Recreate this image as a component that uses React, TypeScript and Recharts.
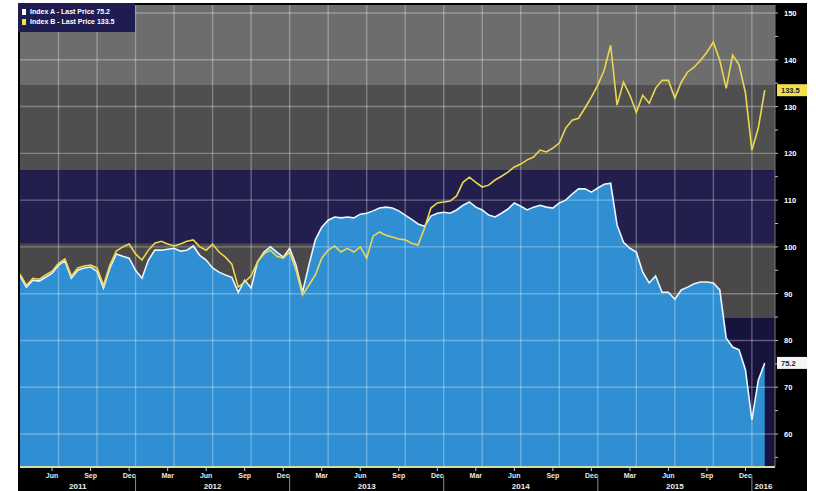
import React from "react";
import { ComposedChart, Area, Line, XAxis, YAxis, ReferenceArea, ReferenceLine } from "recharts";

/* half-month steps, first point early Apr 2011 */
const blueIdx = [
  93.8, 91.4, 92.9, 92.7, 93.5, 94.4, 96.1, 97.0, 93.3, 95.0, 95.5, 95.7, 94.8, 91.2, 95.5, 98.5,
  98.0, 97.6, 95.0, 93.3, 97.2, 99.3, 99.3, 99.5, 99.7, 99.1, 99.3, 100.2, 98.2, 97.2, 95.5, 94.6,
  94.0, 93.5, 90.3, 92.9, 91.2, 96.8, 98.9, 100.0, 98.9, 97.8, 99.7, 96.1, 90.3, 96.1, 101.5, 104.2,
  105.7, 106.4, 106.2, 106.4, 106.2, 107.0, 107.2, 107.7, 108.3, 108.5, 108.3, 107.7, 106.8, 105.9, 104.9, 104.4,
  106.6, 107.2, 107.4, 107.2, 107.9, 108.9, 109.6, 108.5, 107.9, 106.8, 106.4, 107.2, 108.1, 109.4, 108.7, 107.9,
  108.5, 108.9, 108.5, 108.3, 109.4, 110.0, 111.3, 112.4, 112.4, 111.7, 112.6, 113.4, 113.6, 104.7, 101.0, 99.7,
  98.9, 94.6, 92.3, 93.8, 90.3, 90.3, 88.8, 90.8, 91.4, 92.1, 92.5, 92.5, 92.3, 90.8, 80.5, 78.6,
  78.0, 73.7, 63.0, 71.5, 75.2,
];

const yellowIdx = [
  94.2, 91.8, 93.3, 93.1, 94.0, 94.8, 96.5, 97.4, 93.8, 95.5, 95.9, 96.1, 95.5, 91.8, 96.1, 99.1,
  100.0, 100.6, 98.5, 97.2, 99.3, 100.8, 101.2, 100.6, 100.2, 100.6, 101.2, 101.5, 100.0, 99.3, 100.6, 98.9,
  97.8, 96.3, 91.4, 92.5, 93.8, 96.8, 98.5, 99.3, 98.0, 97.6, 98.9, 95.0, 89.7, 91.8, 94.0, 97.6,
  99.3, 100.2, 98.9, 99.7, 98.9, 100.0, 97.6, 102.3, 103.2, 102.5, 102.1, 101.7, 101.5, 100.8, 100.4, 104.0,
  108.3, 109.4, 109.6, 109.8, 110.9, 113.8, 114.9, 113.8, 112.8, 113.2, 114.3, 115.1, 116.0, 117.1, 117.7, 118.6,
  119.2, 120.7, 120.3, 121.1, 122.2, 125.4, 127.1, 127.5, 129.7, 132.0, 134.6, 137.8, 143.1, 130.3, 135.2, 132.4,
  128.8, 132.4, 130.7, 133.9, 135.6, 135.6, 131.8, 135.2, 137.4, 138.4, 139.9, 141.6, 143.8, 139.9, 133.9, 141.0,
  138.9, 132.9, 120.7, 125.4, 133.5,
];

const monthTicks = [5, 11, 17, 23, 29, 35, 41, 47, 53, 59, 65, 71, 77, 83, 89, 95, 101, 107, 113];
const monthNames = ["Jun", "Sep", "Dec", "Mar"];
const yearNames = ["2011", "2012", "2013", "2014", "2015", "2016"];
const yearCentres = [9, 30, 54, 78, 102, 115.8];
const yearBounds = [18, 42, 66, 90, 114];
const gridX = [6, 12, 18, 24, 30, 36, 42, 48, 54, 60, 66, 72, 78, 84, 90, 96, 102, 108, 114];
const priceTicks = [55, 60, 65, 70, 75, 80, 85, 90, 95, 100, 105, 110, 115, 120, 125, 130, 135, 140, 145, 150];
const priceGrid = [60, 70, 80, 90, 100, 110, 120, 130, 140, 150];
const bandEdges = [151.71, 134.6, 116.4, 100.8, 84.8, 52.95];
const BAND_COLORS = ["#6d6d6d", "#4f4f4f", "#221f4f", "#4a4848", "#16143c"];

const Y_DOMAIN = [52.95, 151.71];
const X_DOMAIN = [0, 117.6];
const FONT = "'Liberation Sans', Arial, sans-serif";

const data = blueIdx.map((v, i) => ({ t: i, blue: v, yellow: yellowIdx[i] }));
const yearTicks = [...yearCentres, ...yearBounds].sort((a, b) => a - b);

const MonthTick = ({ x, y, payload }: any) => {
  const k = monthTicks.indexOf(payload.value);
  return (
    <g>
      <line x1={x} y1={y} x2={x} y2={y + 4} stroke="#cfcfcf" />
      <text x={x} y={y + 11} fill="#e8e8e8" fontSize={7} fontWeight={700} textAnchor="middle">
        {monthNames[k % 4]}
      </text>
    </g>
  );
};

const YearTick = ({ x, y, payload }: any) => {
  if (yearBounds.includes(payload.value)) {
    return <line x1={x} y1={y - 5} x2={x} y2={y + 12} stroke="#8a8a8a" />;
  }
  const k = yearCentres.indexOf(payload.value);
  return (
    <text x={x} y={y + 9} fill="#f0f0f0" fontSize={8} fontWeight={700} textAnchor="middle">
      {yearNames[k]}
    </text>
  );
};

const PriceTick = ({ x, y, payload }: any) => (
  <g>
    <line x1={x} y1={y} x2={x + 3} y2={y} stroke="#bdbdbd" />
    {payload.value % 10 === 0 && (
      <text x={x + 9} y={y + 3} fill="#ffffff" fontSize={7.5} fontWeight={700}>
        {payload.value}
      </text>
    )}
  </g>
);

const Tag = ({ viewBox, text, bg, fg }: any) => {
  if (!viewBox) return null;
  const { x, y, width } = viewBox;
  return (
    <g>
      <rect x={x + width + 2} y={y - 6} width={30} height={12} fill={bg} />
      <text x={x + width + 6} y={y + 3} fill={fg} fontSize={7.5} fontWeight={700}>{text}</text>
    </g>
  );
};

export default function App() {
  const lastBlue = blueIdx[blueIdx.length - 1];
  const lastYellow = yellowIdx[yellowIdx.length - 1];
  return (
    <div style={{ position: "absolute", left: 0, top: 0, width: 816, height: 491, background: "#fff", overflow: "hidden" }}>
      <div style={{ position: "absolute", left: 18, top: 3, width: 789, height: 488, background: "#000" }}>
        <ComposedChart
          width={789}
          height={488}
          data={data}
          margin={{ top: 2, right: 0, bottom: 0, left: 2 }}
          style={{ fontFamily: FONT }}
        >
          <XAxis
            xAxisId="m" dataKey="t" type="number" domain={X_DOMAIN} allowDataOverflow
            ticks={monthTicks} interval={0} height={13} tickSize={0} tickMargin={0}
            axisLine={{ stroke: "#d3dfa6", strokeWidth: 2 }} tickLine={false} tick={<MonthTick />}
          />
          <XAxis
            xAxisId="y" dataKey="t" type="number" domain={X_DOMAIN} allowDataOverflow
            ticks={yearTicks} interval={0} height={11} tickSize={0} tickMargin={0}
            axisLine={false} tickLine={false} tick={<YearTick />}
          />
          <YAxis
            yAxisId="p" orientation="right" type="number" domain={Y_DOMAIN} allowDataOverflow
            ticks={priceTicks} interval={0} width={32} tickSize={0} tickMargin={0}
            axisLine={{ stroke: "#777" }} tickLine={false} tick={<PriceTick />}
          />

          {BAND_COLORS.map((c, i) => (
            <ReferenceArea
              key={"b" + i} xAxisId="m" yAxisId="p"
              y1={bandEdges[i + 1]} y2={bandEdges[i]} x1={X_DOMAIN[0]} x2={X_DOMAIN[1]}
              fill={c} fillOpacity={1} stroke="none" zIndex={-200}
            />
          ))}

          <Area
            xAxisId="m" yAxisId="p" dataKey="blue" type="linear"
            fill="#2f8fd2" fillOpacity={1} stroke="#e9f5ff" strokeWidth={1.6}
            isAnimationActive={false} dot={false} activeDot={false}
          />

          {gridX.map((v) => (
            <ReferenceLine key={"gx" + v} xAxisId="m" yAxisId="p" x={v} stroke="rgba(255,255,255,0.3)" strokeWidth={1.4} zIndex={150} />
          ))}
          {priceGrid.map((v) => (
            <ReferenceLine key={"gy" + v} xAxisId="m" yAxisId="p" y={v} stroke="rgba(255,255,255,0.3)" strokeWidth={1.4} zIndex={150} />
          ))}

          <Line
            xAxisId="m" yAxisId="p" dataKey="yellow" type="linear"
            stroke="#ecd750" strokeWidth={1.6} dot={false} activeDot={false}
            isAnimationActive={false}
          />

          <ReferenceLine
            xAxisId="m" yAxisId="p" y={lastYellow} stroke="none" ifOverflow="visible" zIndex={2000}
            label={<Tag text={lastYellow.toFixed(1)} bg="#f2e04a" fg="#222" />}
          />
          <ReferenceLine
            xAxisId="m" yAxisId="p" y={lastBlue} stroke="none" ifOverflow="visible" zIndex={2000}
            label={<Tag text={lastBlue.toFixed(1)} bg="#f4f4f4" fg="#222" />}
          />
        </ComposedChart>

        <div
          style={{
            position: "absolute", left: 0, top: 0, width: 117, height: 29, background: "#1f1c52",
            fontFamily: FONT, fontSize: 7, fontWeight: 700, color: "#fff", lineHeight: "10px",
            padding: "4px 0 0 4px", boxSizing: "border-box",
          }}
        >
          <div style={{ display: "flex", alignItems: "center", gap: 4 }}>
            <span style={{ width: 4, height: 6, background: "#fff", display: "inline-block" }} />
            <span>Index A - Last Price {lastBlue.toFixed(1)}</span>
          </div>
          <div style={{ display: "flex", alignItems: "center", gap: 4 }}>
            <span style={{ width: 4, height: 6, background: "#f2e04a", display: "inline-block" }} />
            <span>Index B - Last Price {lastYellow.toFixed(1)}</span>
          </div>
        </div>
      </div>
    </div>
  );
}
